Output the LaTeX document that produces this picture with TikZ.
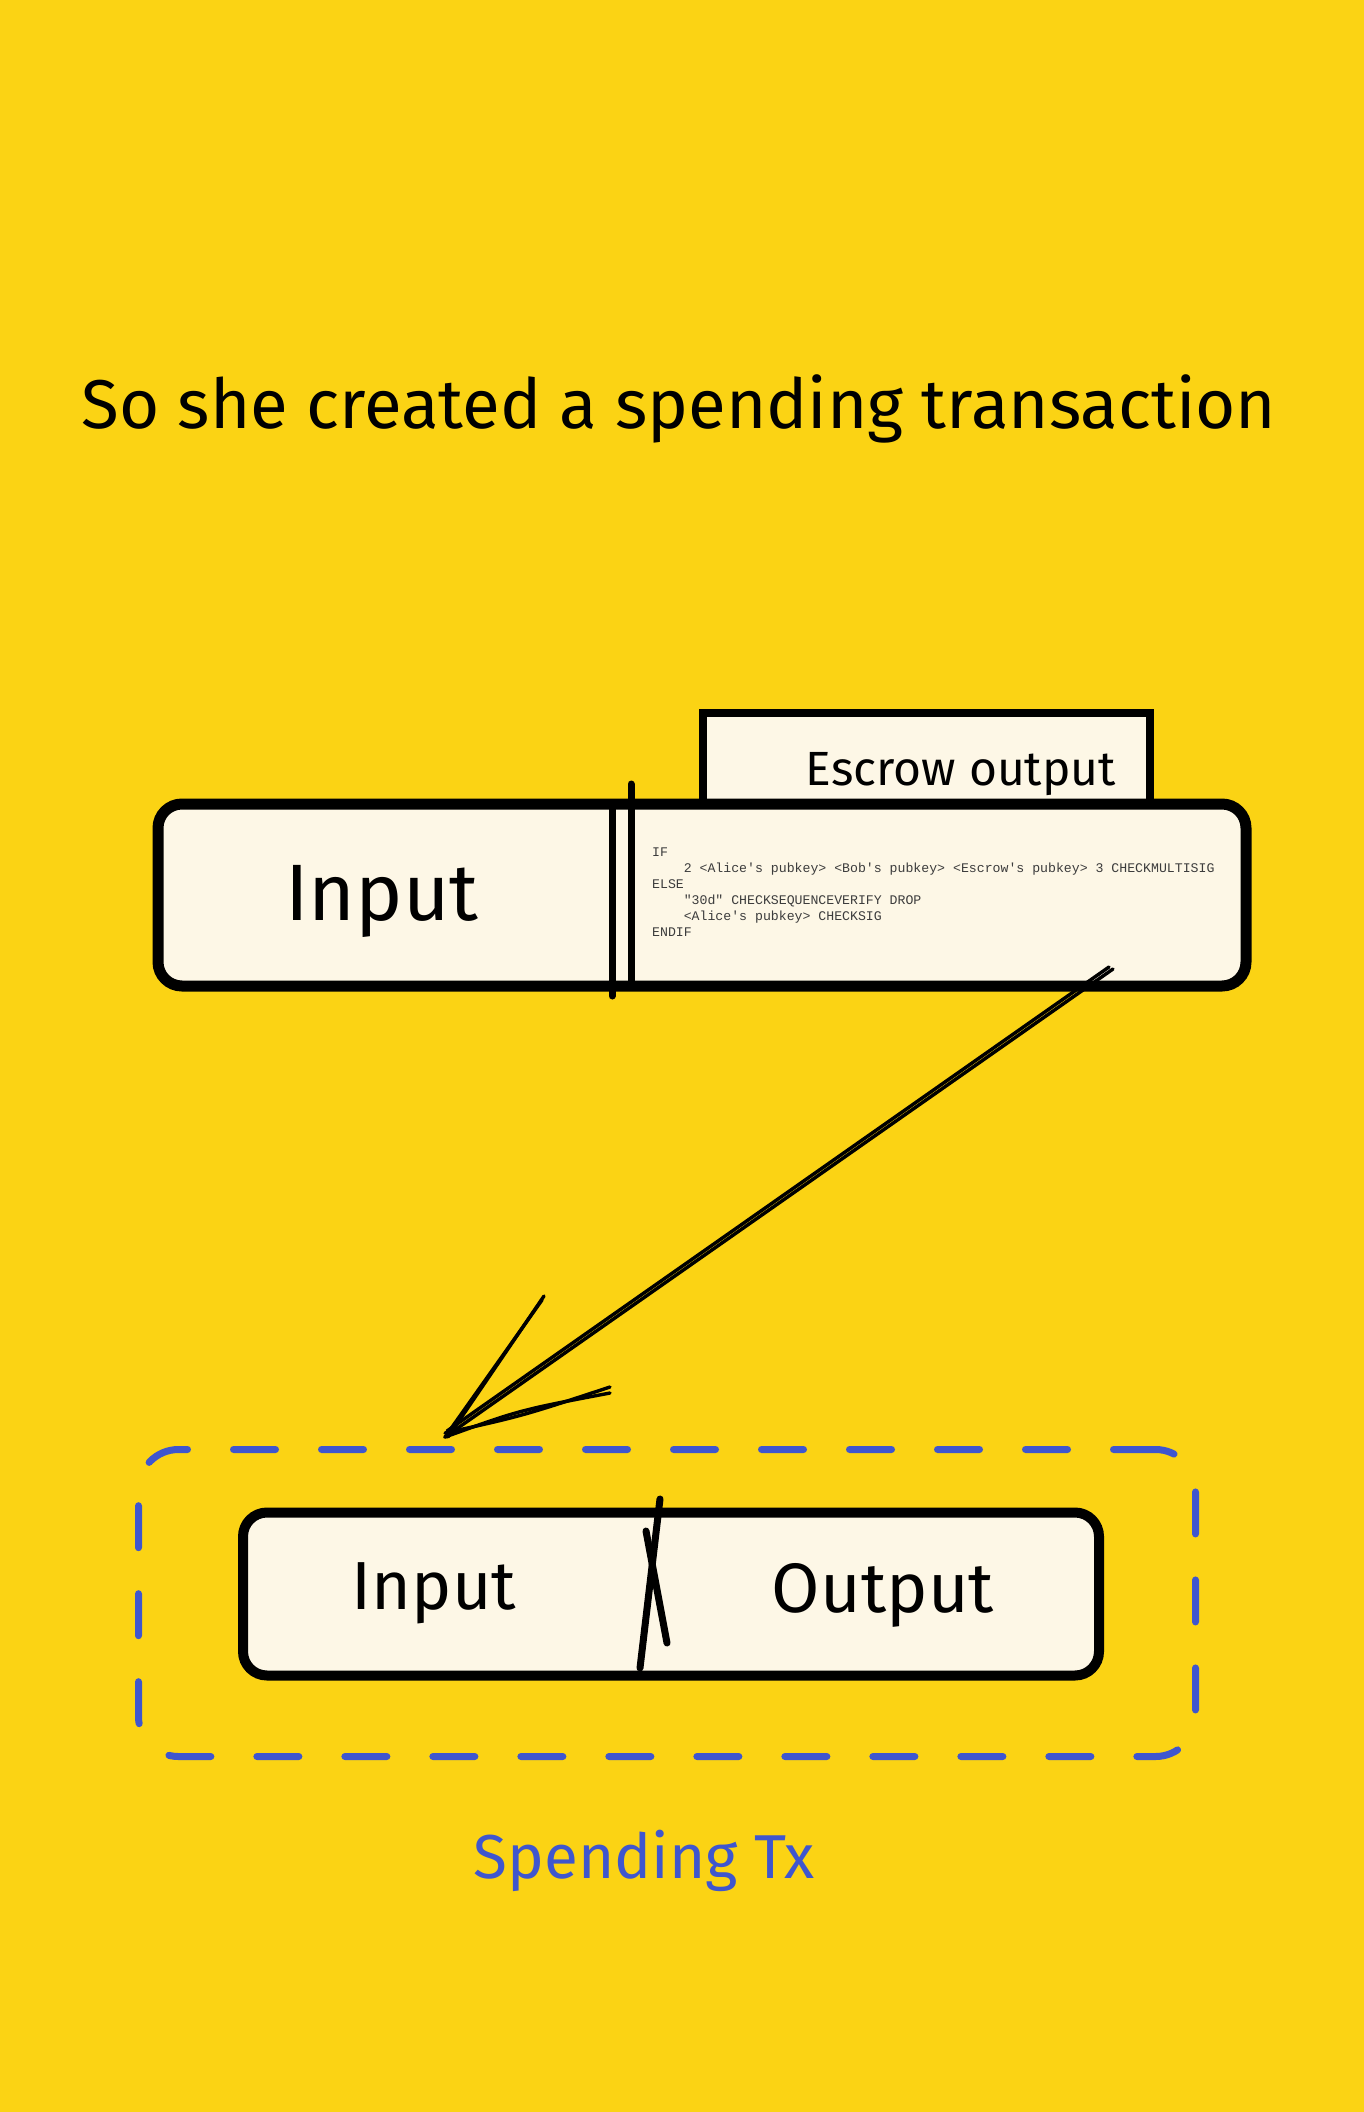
\documentclass[tikz,border=0pt]{standalone}
\usepackage{fontspec}
\setmainfont{Fira Sans}
\setmonofont{Liberation Mono}
\definecolor{bgy}{RGB}{251,211,20}
\definecolor{cream}{RGB}{253,247,230}
\definecolor{grpblue}{RGB}{63,86,206}
\definecolor{codegray}{RGB}{60,60,60}
\begin{document}
\begin{tikzpicture}[x=1pt,y=-1pt,
  box/.style={draw=black, fill=cream, line width=11pt, rounded corners=24pt, inner sep=0pt},
  tabbox/.style={draw=black, fill=cream, line width=8pt, inner sep=0pt},
  hand/.style={font=\fontsize{#1}{#1}\selectfont, text=black, inner sep=0pt, anchor=base},
  codetext/.style={font=\ttfamily\fontsize{13.2}{16}\selectfont, text=codegray, align=left, inner sep=0pt, anchor=north west},
  group/.style={draw=grpblue, line width=7pt, dash pattern=on 42pt off 46pt, line cap=round, rounded corners=40pt, inner sep=0pt},
  divider/.style={line width=7pt, line cap=round},
  conn/.style={line width=3.4pt, line cap=round},
]
\useasboundingbox (0,0) rectangle (1364,2112);
\fill[bgy] (0,0) rectangle (1364,2112);

% title
\node[hand=69] (title) at (679,428) {So she created a spending transaction};

% escrow tab
\node[tabbox, minimum width=447pt, minimum height=90pt] (tab) at (926,758) {};
\node[hand=48] (esclbl) at (961,785) {Escrow output};

% top transaction box
\node[box, minimum width=1088pt, minimum height=182pt] (tx) at (702,895) {};
\draw[divider] (612,808) -- (612,996);
\draw[divider] (631,784) -- (631,984);
\node[hand=80] (in1) at (382,920) {Input};
\node[codetext] (code) at (652,848) {IF\\
\hspace*{31.6pt}2 <Alice's pubkey> <Bob's pubkey> <Escrow's pubkey> 3 CHECKMULTISIG\\
ELSE\\
\hspace*{31.6pt}"30d" CHECKSEQUENCEVERIFY DROP\\
\hspace*{31.6pt}<Alice's pubkey> CHECKSIG\\
ENDIF};

% spending tx group
\node[group, minimum width=1057pt, minimum height=307pt] (grp) at (667,1603) {};
\node[box, line width=10pt, minimum width=856pt, minimum height=163pt] (tx2) at (671,1594) {};
\draw[divider] (660,1499) -- (640,1668);
\draw[divider] (646,1531) -- (667,1643);
\node[hand=68] (in2) at (434,1609) {Input};
\node[hand=70] (out2) at (883,1612) {Output};
\node[hand=62, text=grpblue] (lbl) at (644,1878) {Spending Tx};

% arrow
\coordinate (arrS) at (1113,969);
\coordinate (arrE) at (445,1437);
\coordinate (barbA) at (542,1300);
\coordinate (barbB) at (610,1393);
\draw[conn] (arrS) -- (arrE);
\draw[conn] ([xshift=-4pt,yshift=2pt]arrS) -- ([xshift=2pt,yshift=6pt]arrE);
\draw[conn] (arrE) -- (barbA);
\draw[conn] ([xshift=3pt]arrE) -- ([xshift=2pt,yshift=4pt]barbA);
\draw[conn] (arrE) .. controls (520,1410) .. (barbB);
\draw[conn] ([yshift=4pt]arrE) .. controls (522,1416) .. ([yshift=6pt]barbB);
\end{tikzpicture}
\end{document}
